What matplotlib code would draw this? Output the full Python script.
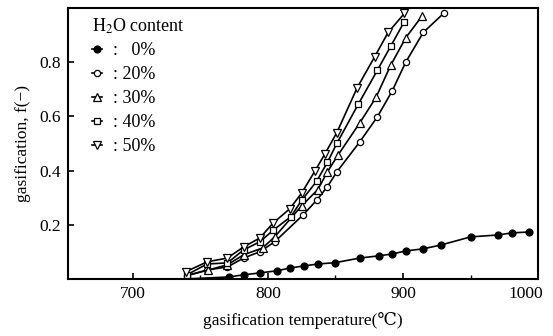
import numpy as np
import matplotlib
matplotlib.use("Agg")
import matplotlib.pyplot as plt
import matplotlib.transforms as mtransforms
from matplotlib.ticker import MultipleLocator

plt.rcParams['font.family'] = ['Liberation Serif', 'DejaVu Serif']
plt.rcParams['mathtext.fontset'] = 'stix'

# H2O 0 %
t0 = [740, 771, 782, 794, 807, 816, 827, 837, 850, 868, 882, 892, 902, 915, 928, 950, 970, 981, 993]
f0 = [0.0, 0.007, 0.015, 0.022, 0.030, 0.040, 0.048, 0.055, 0.060, 0.077, 0.085, 0.092, 0.103, 0.111, 0.125, 0.155, 0.162, 0.170, 0.173]

# H2O 20 %
t20 = [740, 755, 770, 782, 794, 805, 826, 836, 844, 851, 868, 881, 892, 902, 915, 930]
f20 = [0.012, 0.033, 0.044, 0.077, 0.100, 0.137, 0.236, 0.290, 0.340, 0.395, 0.506, 0.598, 0.694, 0.800, 0.910, 0.980]

# H2O 30 %
t30 = [740, 756, 770, 782, 796, 805, 825, 837, 844, 852, 868, 880, 891, 902, 914]
f30 = [0.012, 0.033, 0.052, 0.089, 0.114, 0.155, 0.270, 0.330, 0.395, 0.458, 0.576, 0.670, 0.790, 0.890, 0.970]

# H2O 40 %
t40 = [740, 755, 770, 782, 794, 804, 817, 825, 836, 844, 851, 867, 881, 891, 901]
f40 = [0.015, 0.055, 0.059, 0.107, 0.137, 0.180, 0.230, 0.290, 0.360, 0.430, 0.500, 0.646, 0.770, 0.860, 0.950]

# H2O 50 %
t50 = [739, 755, 770, 782, 794, 804, 816, 825, 835, 842, 851, 866, 879, 889, 901]
f50 = [0.026, 0.063, 0.077, 0.118, 0.151, 0.207, 0.258, 0.317, 0.400, 0.460, 0.540, 0.705, 0.820, 0.910, 0.980]

fig = plt.figure(figsize=(5.53, 3.36), dpi=100)
ax = fig.add_axes([0.123, 0.170, 0.850, 0.806])

kw = dict(color='black', lw=1.2, mec='black', mew=0.9)
ax.plot(t0, f0, marker='o', ms=5, mfc='black', label=':   0%', **kw)
ax.plot(t20, f20, marker='o', ms=4.5, mfc='white', label=': 20%', **kw)
ax.plot(t30, f30, marker='^', ms=5.5, mfc='white', label=': 30%', **kw)
ax.plot(t40, f40, marker='s', ms=4.5, mfc='white', label=': 40%', **kw)
ax.plot(t50, f50, marker='v', ms=5.5, mfc='white', label=': 50%', **kw)

ax.set_xlim(652, 1000)
ax.set_ylim(0, 1.0)
ax.set_xticks([700, 800, 900, 1000])
ax.xaxis.set_minor_locator(MultipleLocator(50))
ax.set_yticks([0.2, 0.4, 0.6, 0.8])
ax.tick_params(axis='both', which='major', direction='in', length=4, width=1.2,
               labelsize=12.5, pad=5)
ax.tick_params(axis='x', which='minor', direction='in', length=3, width=1.0)
for s in ax.spines.values():
    s.set_linewidth(1.5)

# last x label sits slightly left of its tick, as in the original
lab = ax.get_xticklabels()[-1]
lab.set_horizontalalignment('right')
lab.set_transform(lab.get_transform() + mtransforms.ScaledTranslation(5/100, 0, fig.dpi_scale_trans))

ax.set_xlabel('gasification temperature(\u2103)', fontsize=12.5, labelpad=7)
ax.set_ylabel('gasification, f(\u2212)', fontsize=12.5, labelpad=6)

leg = ax.legend(title='H$_2$O content', loc='upper left', frameon=False, fontsize=13,
                title_fontsize=13, handlelength=0.6, handletextpad=0.6,
                labelspacing=0.38, borderaxespad=0.0, borderpad=0.0,
                bbox_to_anchor=(0.05, 0.97), alignment='left')

fig.savefig('out.png', dpi=100)
